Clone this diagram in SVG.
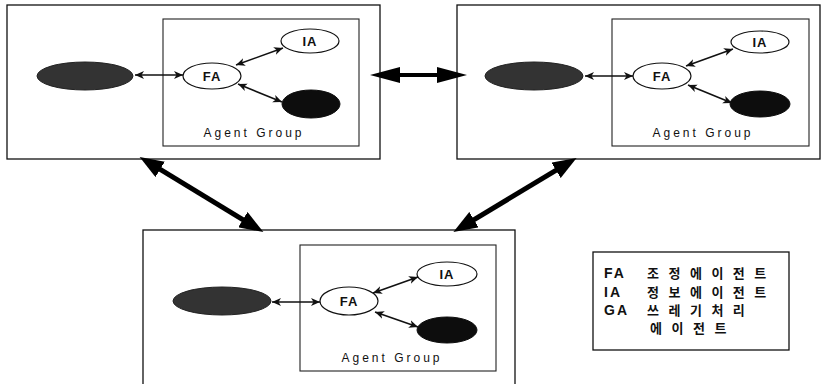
<svg xmlns="http://www.w3.org/2000/svg" width="821" height="384" viewBox="0 0 821 384">
<style>
.box{fill:none;stroke:#111;stroke-width:1.3}
.gbox{fill:#fff;stroke:#222;stroke-width:1.1}
.host{fill:#333;stroke:#222;stroke-width:1}
.fa,.ia{fill:#fff;stroke:#111;stroke-width:1.2}
.ga{fill:#0d0d0d;stroke:#0d0d0d;stroke-width:1}
.lbl{font-family:"Liberation Sans",Arial,sans-serif;font-weight:bold;font-size:13px;letter-spacing:1px;fill:#111;text-anchor:middle}
.grp{font-family:"Liberation Sans",Arial,sans-serif;font-size:12px;letter-spacing:3px;fill:#111;text-anchor:middle}
.sm{stroke:#111;stroke-width:1.6;fill:none;marker-start:url(#sh);marker-end:url(#sh)}
.big{stroke:#000;stroke-width:5;fill:none;marker-start:url(#bh);marker-end:url(#bh)}
.hz{stroke:#000;stroke-width:4;fill:none;marker-start:url(#hh);marker-end:url(#hh)}
.leg{font-family:"Liberation Sans","Noto Sans CJK KR",sans-serif;font-weight:bold;font-size:14px;letter-spacing:2px;fill:#111}
.kor{font-family:"Noto Sans CJK KR","Liberation Sans",sans-serif;font-weight:bold;font-size:13px;letter-spacing:9.5px;fill:#111}
</style>
<defs>
<marker id="sh" markerUnits="userSpaceOnUse" viewBox="0 0 10 10" refX="9" refY="5" markerWidth="10" markerHeight="10" orient="auto-start-reverse">
<path d="M0,1 L9,5 L0,9 L2.5,5 Z" fill="#111"/>
</marker>
<marker id="bh" markerUnits="userSpaceOnUse" viewBox="0 0 24 18" refX="10" refY="9" markerWidth="24" markerHeight="18" orient="auto-start-reverse">
<path d="M0,0 L24,9 L0,18 Z" fill="#000"/>
</marker>
<marker id="hh" markerUnits="userSpaceOnUse" viewBox="0 0 30 16" refX="10" refY="8" markerWidth="30" markerHeight="16" orient="auto-start-reverse">
<path d="M0,0 L30,8 L0,16 Z" fill="#000"/>
</marker>
</defs>

<g id="host-top-left">
<rect class="box" x="7" y="5" width="373" height="154"/>
<rect class="gbox" x="163" y="19" width="196" height="127"/>
<ellipse class="host" cx="85" cy="76" rx="48" ry="14"/>
</g>
<g id="group-top-left">
<ellipse id="fa-tl" class="fa" cx="212" cy="76" rx="29" ry="13"/>
<text class="lbl" x="212" y="81">FA</text>
<ellipse id="ia-tl" class="ia" cx="310" cy="41" rx="29" ry="12"/>
<text class="lbl" x="310" y="46">IA</text>
<ellipse id="ga-tl" class="ga" cx="311" cy="104" rx="29" ry="14"/>
<text class="grp" x="254" y="137">Agent Group</text>
</g>

<g id="host-top-right">
<rect class="box" x="457" y="5" width="363" height="154"/>
<rect class="gbox" x="612" y="19" width="197" height="127"/>
<ellipse class="host" cx="534" cy="76" rx="49" ry="14"/>
</g>
<g id="group-top-right">
<ellipse id="fa-tr" class="fa" cx="662" cy="76" rx="29" ry="13"/>
<text class="lbl" x="662" y="81">FA</text>
<ellipse id="ia-tr" class="ia" cx="760" cy="42" rx="29" ry="11"/>
<text class="lbl" x="760" y="47">IA</text>
<ellipse id="ga-tr" class="ga" cx="760" cy="104" rx="30" ry="13"/>
<text class="grp" x="703" y="137">Agent Group</text>
</g>

<g id="host-bottom">
<rect class="box" x="143" y="230" width="372" height="170"/>
<rect class="gbox" x="300" y="245" width="196" height="126"/>
<ellipse class="host" cx="222" cy="301" rx="49" ry="14"/>
</g>
<g id="group-bottom">
<ellipse id="fa-b" class="fa" cx="349" cy="301" rx="29" ry="14"/>
<text class="lbl" x="349" y="306">FA</text>
<ellipse id="ia-b" class="ia" cx="447" cy="274" rx="30" ry="12"/>
<text class="lbl" x="447" y="279">IA</text>
<ellipse id="ga-b" class="ga" cx="447" cy="330" rx="30" ry="13"/>
<text class="grp" x="392" y="362">Agent Group</text>
</g>

<g id="connectors">
<line class="sm" x1="135" y1="75" x2="183" y2="75"/>
<line class="sm" x1="236" y1="65" x2="283" y2="48"/>
<line class="sm" x1="238" y1="84" x2="282" y2="102"/>

<line class="sm" x1="585" y1="76" x2="633" y2="76"/>
<line class="sm" x1="686" y1="66" x2="733" y2="49"/>
<line class="sm" x1="688" y1="85" x2="732" y2="103"/>

<line class="sm" x1="272" y1="302" x2="320" y2="302"/>
<line class="sm" x1="373" y1="293" x2="418" y2="277"/>
<line class="sm" x1="375" y1="312" x2="418" y2="327"/>

<line class="hz" x1="390" y1="75" x2="447" y2="75"/>
<line class="big" x1="151.6" y1="164.2" x2="251.4" y2="224.8"/>
<line class="big" x1="564.6" y1="165.2" x2="465.4" y2="224.8"/>
</g>

<g id="legend">
<rect class="box" x="593" y="252" width="196" height="98"/>
<text class="leg" x="604" y="278">FA</text>
<text class="kor" x="647" y="278">조정에이전트</text>
<text class="leg" x="604" y="297">IA</text>
<text class="kor" x="647" y="297">정보에이전트</text>
<text class="leg" x="604" y="315">GA</text>
<text class="kor" x="647" y="315">쓰레기처리</text>
<text class="kor" x="650" y="333">에이전트</text>
</g>
</svg>
